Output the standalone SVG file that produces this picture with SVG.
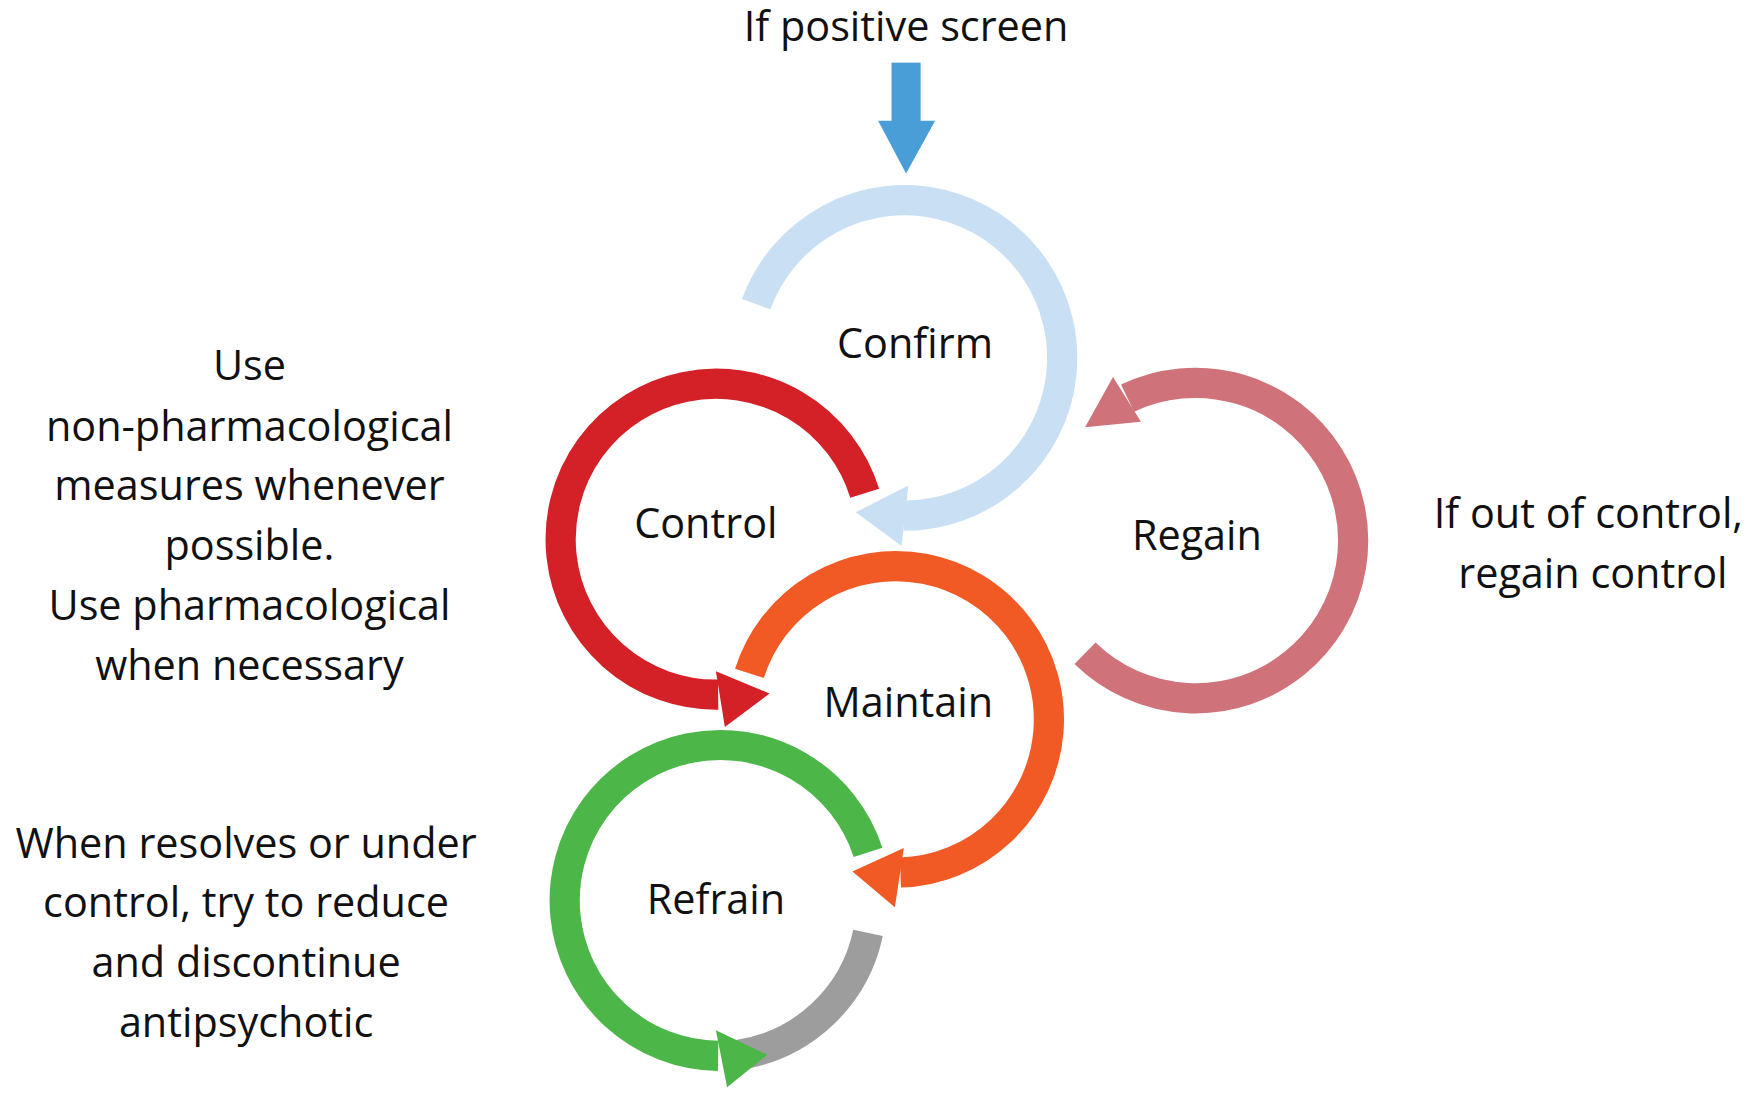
<svg xmlns="http://www.w3.org/2000/svg" width="1754" height="1105" viewBox="0 0 1754 1105">
<style>
text{font-family:"Open Sans","Liberation Sans",sans-serif;font-size:37px;fill:#111;text-anchor:middle}
.a{fill:none;stroke-width:27}
</style>
<rect width="1754" height="1105" fill="#fff"/>
<g transform="scale(1.1186)">
<g id="connectors">
<g id="entry"><rect x="797" y="56" width="26" height="53" fill="#4a9ed8"/><polygon points="785,108 836,108 810,155" fill="#4a9ed8"/></g>
<path class="a" stroke="#c9e0f4" d="M676,272 A141,141 0 1 1 808,461"/>
<polygon points="812,434 765,458 806,488" fill="#c9e0f4"/>
<path class="a" stroke="#d42027" d="M773,441 A139,139 0 1 0 642,621"/>
<polygon points="640,600 688,620 648,650" fill="#d42027"/>
<path class="a" stroke="#d0727a" d="M970,584 A141,141 0 1 0 1008,356"/>
<polygon points="995,337 970,382 1020,377" fill="#d0727a"/>
<path class="a" stroke="#f15a24" d="M670,602 A137,137 0 1 1 805,780"/>
<polygon points="808,758 762,779 800,811" fill="#f15a24"/>
<path class="a" stroke="#9d9d9d" d="M776,834 A139,139 0 0 1 660,943"/>
<path class="a" stroke="#4cb748" d="M776,762 A139,139 0 1 0 642,944"/>
<polygon points="640,921 686,943 650,972" fill="#4cb748"/>
</g>
<g id="confirm"><text x="818" y="320">Confirm</text></g>
<g id="control"><text x="631" y="481">Control</text></g>
<g id="regain"><text x="1070" y="492">Regain</text></g>
<g id="maintain"><text x="812" y="641">Maintain</text></g>
<g id="refrain"><text x="640" y="817">Refrain</text></g>
<g id="labels">
<text x="810" y="37">If positive screen</text>
<text x="223" y="340">Use</text>
<text x="223" y="394">non-pharmacological</text>
<text x="223" y="447">measures whenever</text>
<text x="223" y="501">possible.</text>
<text x="223" y="554">Use pharmacological</text>
<text x="223" y="608">when necessary</text>
<text x="1420" y="472">If out of control,</text>
<text x="1424" y="526">regain control</text>
<text x="220" y="767">When resolves or under</text>
<text x="220" y="820">control,  try to  reduce</text>
<text x="220" y="873">and discontinue</text>
<text x="220" y="927">antipsychotic</text>
</g>
</g>
</svg>
